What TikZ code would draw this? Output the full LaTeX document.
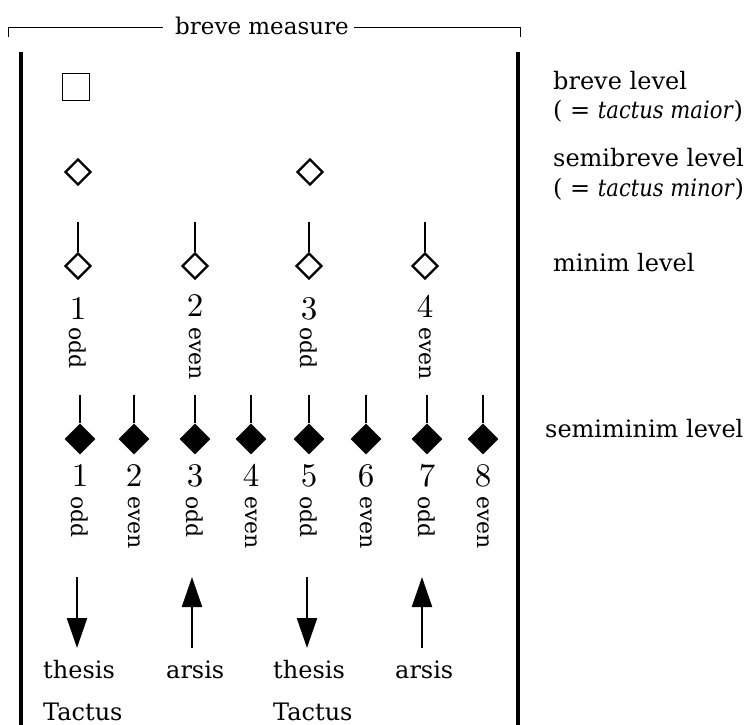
\documentclass[tikz,border=0pt]{standalone}
\usepackage{fontspec}
\setmainfont{DejaVu Serif}[ItalicFeatures={FakeStretch=0.88}]
\newfontfamily\digitfont{lmroman10-regular.otf}
\usetikzlibrary{arrows.meta,shapes.geometric}
\begin{document}
\begin{tikzpicture}[x=1pt,y=-1pt,
  txt/.style={font=\fontsize{24}{28}\selectfont, inner sep=0pt, anchor=base west},
  num/.style={font=\digitfont\fontsize{33}{36}\selectfont, inner sep=0pt, anchor=base},
  parity/.style={font=\fontsize{22}{26}\selectfont, inner sep=0pt, rotate=-90, anchor=west},
  hollow/.style={diamond, draw, line width=2.2pt, inner sep=0pt, minimum width=26pt, minimum height=26pt},
  solid/.style={diamond, fill, inner sep=0pt, minimum width=31pt, minimum height=31pt},
  stem/.style={line width=2.2pt},
  barline/.style={line width=4.5pt},
  beat/.style={line width=2.2pt, -{Triangle[length=30pt,width=20pt]}}]
\useasboundingbox (0,0) rectangle (748,725);

% bracket over the measure
\node[font=\fontsize{23}{26}\selectfont, inner sep=0pt, anchor=base] (bm) at (262,35) {breve measure};
\draw[line width=0.9pt] (8,37) -- (8,27) -- ([xshift=-12pt]bm.west |- 0,27);
\draw[line width=0.9pt] ([xshift=5pt]bm.east |- 0,27) -- (520,27) -- (520,37);

% bar lines
\draw[barline] (21,52) -- (21,725);
\draw[barline] (518,52) -- (518,725);

% breve
\node[draw, line width=1pt, minimum size=27pt, inner sep=0pt] (br) at (76,87) {};

% semibreves
\node[hollow] (sb1) at (78,172) {};
\node[hollow] (sb2) at (310,172) {};

% minims
\foreach \i/\x/\p/\y in {1/78/odd/319, 2/195/even/316, 3/309/odd/319, 4/425/even/317}{
  \node[hollow] (m\i) at (\x,266) {};
  \coordinate (mt\i) at (\x,222);
  \draw[stem] (mt\i) -- (m\i.north);
  \node[num] (mn\i) at (\x,\y) {\i};
  \node[parity] (mp\i) at (\x,327) {\p};
}

% semiminims
\foreach \i/\x/\p in {1/80/odd, 2/134/even, 3/195/odd, 4/251/even, 5/309/odd, 6/366/even, 7/427/odd, 8/483/even}{
  \node[solid] (s\i) at (\x,439) {};
  \coordinate (st\i) at (\x,395);
  \draw[stem] (st\i) -- (s\i.north);
  \node[num] (sn\i) at (\x,486) {\i};
  \node[parity] (sp\i) at (\x,496) {\p};
}

% beat arrows
\foreach \i/\x in {1/77, 3/307}{
  \coordinate (at\i) at (\x,577);
  \coordinate (ab\i) at (\x,648);
  \draw[beat] (at\i) -- (ab\i);
}
\foreach \i/\x in {2/192, 4/422}{
  \coordinate (at\i) at (\x,577);
  \coordinate (ab\i) at (\x,648);
  \draw[beat] (ab\i) -- (at\i);
}

\node[txt] (th1) at (43,678) {thesis};
\node[txt] (ar1) at (166,678) {arsis};
\node[txt] (th2) at (273,678) {thesis};
\node[txt] (ar2) at (395,678) {arsis};
\node[txt] (ta1) at (43,720) {Tactus};
\node[txt] (ta2) at (273,720) {Tactus};

% level labels
\node[txt] (l1) at (553,90) {breve level};
\node[txt] (l1b) at (553,119) {( = \textit{tactus maior})};
\node[txt] (l2) at (553,167) {semibreve level};
\node[txt] (l2b) at (553,196) {( = \textit{tactus minor})};
\node[txt] (l3) at (553,271) {minim level};
\node[txt] (l4) at (545,437) {semiminim level};
\end{tikzpicture}
\end{document}
